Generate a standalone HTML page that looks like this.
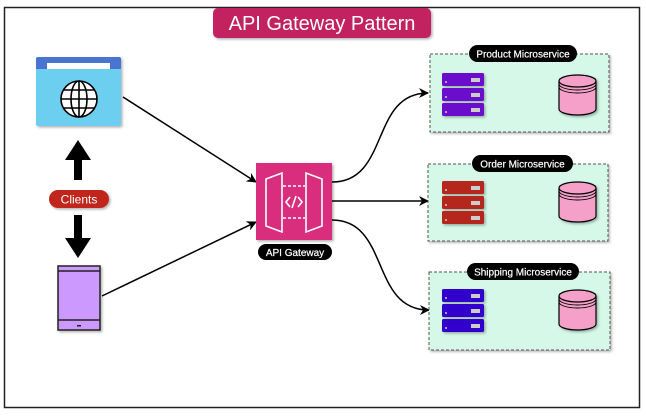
<!DOCTYPE html>
<html><head><meta charset="utf-8"><style>
html,body{margin:0;padding:0;background:#fff;width:646px;height:416px;overflow:hidden}
text{font-family:"Liberation Sans",sans-serif}
</style></head><body>
<svg width="646" height="416" viewBox="0 0 646 416" xmlns="http://www.w3.org/2000/svg">
<defs>
<marker id="ah" viewBox="0 0 10 10" refX="9" refY="5" markerWidth="11" markerHeight="10" orient="auto" markerUnits="userSpaceOnUse"><path d="M0,0 L10,5 L0,10 L3,5 z" fill="#000"/></marker>
<filter id="sh" x="-10%" y="-10%" width="130%" height="130%"><feDropShadow dx="1.5" dy="1.5" stdDeviation="1.2" flood-opacity="0.3"/></filter>
<g id="db">
<path d="M0,6 v28 a18.5,6 0 0 0 37,0 v-28" fill="#f4a0c8" stroke="#000" stroke-width="1.2"/>
<ellipse cx="18.5" cy="6" rx="18.5" ry="6" fill="#f4a0c8" stroke="#000" stroke-width="1.2"/>
<path d="M0,9 a18.5,6 0 0 0 37,0 M0,12 a18.5,6 0 0 0 37,0" fill="none" stroke="#000" stroke-width="0.9"/>
</g>
</defs>
<rect x="4.5" y="7.5" width="635" height="400" fill="#fff" stroke="#222" stroke-width="1.5"/>
<rect x="213" y="8" width="218" height="30" rx="5" fill="#c2205f" filter="url(#sh)"/>
<text x="322" y="30" font-size="20" fill="#fff" text-anchor="middle">API Gateway Pattern</text>

<g filter="url(#sh)">
<rect x="36" y="57" width="85" height="69" rx="2" fill="#6dcff0"/>
<path d="M36,69 V59 a2,2 0 0 1 2,-2 H119 a2,2 0 0 1 2,2 V69 z" fill="#4a74d0"/>
</g>
<rect x="47" y="63" width="63" height="6" fill="#fff"/>
<g fill="none" stroke="#000" stroke-width="1.6">
<circle cx="79" cy="99" r="18" fill="#fff"/>
<ellipse cx="79" cy="99" rx="8" ry="18"/>
<line x1="79" y1="81" x2="79" y2="117"/><line x1="61" y1="99" x2="97" y2="99"/>
<line x1="64" y1="90" x2="94" y2="90"/><line x1="64" y1="108" x2="94" y2="108"/>
</g>
<path d="M74,180 V160 H65 L78,140 L91,160 H82 V180 z" fill="#000"/>
<path d="M74,215 V238 H65 L78,258 L91,238 H82 V215 z" fill="#000"/>
<rect x="49" y="190" width="60" height="18" rx="9" fill="#c0281a" filter="url(#sh)"/>
<text x="79" y="203.5" font-size="12" fill="#fff" text-anchor="middle">Clients</text>
<g filter="url(#sh)"><rect x="58" y="266" width="42" height="64" fill="#cc99ff" stroke="#222" stroke-width="1.5"/></g>
<line x1="58" y1="271" x2="100" y2="271" stroke="#222" stroke-width="1.5"/>
<line x1="58" y1="320" x2="100" y2="320" stroke="#222" stroke-width="1.5"/>
<rect x="77" y="325" width="4" height="1.5" fill="#222"/>

<g fill="none" stroke="#000" stroke-width="1.5" marker-end="url(#ah)">
<line x1="123" y1="97" x2="256" y2="182"/>
<line x1="102" y1="296" x2="256" y2="222"/>
<path d="M332,182 C390,182 370,93 428,93"/>
<line x1="332" y1="201" x2="428" y2="201"/>
<path d="M332,220 C390,220 370,310 429,310"/>
<line x1="484" y1="94" x2="558" y2="94"/>
<line x1="484" y1="201" x2="558" y2="201"/>
<line x1="484" y1="309" x2="558" y2="309"/>
</g>

<rect x="256" y="163" width="76" height="77" fill="#d92f7e" filter="url(#sh)"/>
<g fill="none" stroke="#fff" stroke-width="1.6">
<path d="M266,179 L282,173 V232 L266,226 z"/>
<path d="M322,179 L306,173 V232 L322,226 z"/>
<path d="M283,186 H305 M283,218 H305" stroke-dasharray="3,2"/>
<path d="M290,197 l-4,5 l4,5 M298,197 l4,5 l-4,5 M296,196 l-4,12"/>
</g>
<rect x="258" y="244" width="74" height="16" rx="8" fill="#000"/>
<text x="295" y="256" font-size="10" fill="#fff" text-anchor="middle" stroke="#fff" stroke-width="0.2">API Gateway</text>

<g fill="#d5f8e8" stroke="#555" stroke-width="1" stroke-dasharray="3,2" filter="url(#sh)">
<rect x="430" y="54" width="179" height="78"/>
<rect x="428" y="164" width="180" height="77"/>
<rect x="429" y="272" width="181" height="78"/>
</g>
<g fill="#000">
<rect x="469" y="45" width="108" height="17" rx="8.5"/>
<rect x="472" y="155" width="101" height="17" rx="8.5"/>
<rect x="467" y="263" width="112" height="17" rx="8.5"/>
</g>
<g font-size="10" fill="#fff" text-anchor="middle" stroke="#fff" stroke-width="0.2">
<text x="523" y="57.5">Product Microservice</text>
<text x="522.5" y="167.5">Order Microservice</text>
<text x="523" y="275.5">Shipping Microservice</text>
</g>

<g fill="#6a0dcc" filter="url(#sh)">
<rect x="442" y="73" width="42" height="13" rx="1.5"/>
<rect x="442" y="88" width="42" height="13" rx="1.5"/>
<rect x="442" y="103" width="42" height="13" rx="1.5"/>
</g>
<g fill="#b5261a" filter="url(#sh)">
<rect x="442" y="181" width="42" height="13" rx="1.5"/>
<rect x="442" y="196" width="42" height="13" rx="1.5"/>
<rect x="442" y="211" width="42" height="13" rx="1.5"/>
</g>
<g fill="#3300cc" filter="url(#sh)">
<rect x="442" y="289" width="42" height="13" rx="1.5"/>
<rect x="442" y="304" width="42" height="13" rx="1.5"/>
<rect x="442" y="319" width="42" height="13" rx="1.5"/>
</g>
<g fill="#ccc">
<rect x="471" y="78" width="9" height="4"/><rect x="471" y="93" width="9" height="4"/><rect x="471" y="108" width="9" height="4"/>
<rect x="471" y="186" width="9" height="4"/><rect x="471" y="201" width="9" height="4"/><rect x="471" y="216" width="9" height="4"/>
<rect x="471" y="294" width="9" height="4"/><rect x="471" y="309" width="9" height="4"/><rect x="471" y="324" width="9" height="4"/>
<circle cx="446" cy="82" r="1"/><circle cx="446" cy="97" r="1"/><circle cx="446" cy="112" r="1"/>
<circle cx="446" cy="190" r="1"/><circle cx="446" cy="205" r="1"/><circle cx="446" cy="220" r="1"/>
<circle cx="446" cy="298" r="1"/><circle cx="446" cy="313" r="1"/><circle cx="446" cy="328" r="1"/>
</g>

<use href="#db" x="559" y="75" filter="url(#sh)"/>
<use href="#db" x="559" y="182" filter="url(#sh)"/>
<use href="#db" x="559" y="290" filter="url(#sh)"/>
</svg>
</body></html>
